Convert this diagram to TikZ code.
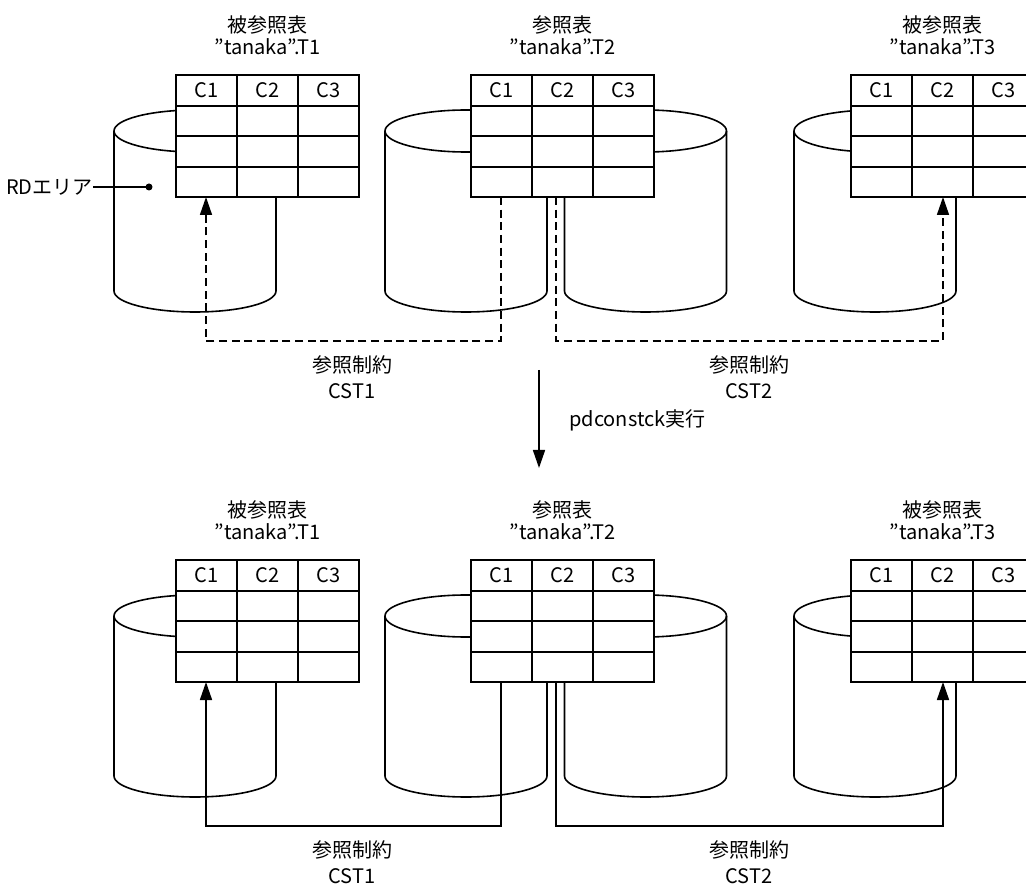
\documentclass[tikz,border=0pt]{standalone}
\usepackage{fontspec}
\setmainfont{Noto Sans CJK JP}
\usetikzlibrary{arrows.meta}
\tikzset{
  lbl/.style={inner sep=0pt, font=\fontsize{15}{18}\selectfont},
  ln/.style={line width=1.2pt},
  dashln/.style={ln, dash pattern=on 6pt off 3.5pt},
  tip/.style={-{Triangle[length=13.5pt,width=9pt]}},
  dbtable/.pic={
    \path[ln, draw, fill=white] (0,0) rectangle (183,-122);
    \draw[ln] (61,0) -- (61,-122) (122,0) -- (122,-122)
      (0,-31) -- (183,-31) (0,-61) -- (183,-61) (0,-92) -- (183,-92);
    \node[lbl] (-c1) at (30.5,-15.5) {C1};
    \node[lbl] (-c2) at (91.5,-15.5) {C2};
    \node[lbl] (-c3) at (152.5,-15.5) {C3};
  },
  cylinder/.pic={
    \path[ln, draw, fill=white] (-81,0) -- (-81,-160)
      arc[start angle=180, end angle=360, x radius=81, y radius=21]
      -- (81,0) arc[start angle=0, end angle=180, x radius=81, y radius=21] -- cycle;
    \draw[ln] (-81,0) arc[start angle=180, end angle=360, x radius=81, y radius=21];
  }
}
\begin{document}
\begin{tikzpicture}[x=0.75pt, y=0.75pt]
\useasboundingbox (0,0) rectangle (1026,-884);
\clip (0,0) rectangle (1026,-884);

% ---------- upper half ----------
\pic (cA) at (195,-131) {cylinder};
\pic (cB) at (466,-131) {cylinder};
\pic (cC) at (645.5,-131) {cylinder};
\pic (cD) at (875,-131) {cylinder};

\pic (tA) at (176,-75) {dbtable};
\pic (tB) at (471,-75) {dbtable};
\pic (tC) at (851,-75) {dbtable};

\node[lbl] (hA1) at (267.5,-25) {被参照表};
\node[lbl] (hA2) at (267.5,-47) {"tanaka".T1};
\node[lbl] (hB1) at (562.5,-25) {参照表};
\node[lbl] (hB2) at (562.5,-47) {"tanaka".T2};
\node[lbl] (hC1) at (942.5,-25) {被参照表};
\node[lbl] (hC2) at (942.5,-47) {"tanaka".T3};

\node[lbl, anchor=east] (rd) at (93,-187) {RDエリア};
\coordinate (rddot) at (149,-187);
\draw[ln] (rd.east) -- (rddot);
\fill (rddot) circle[radius=3.5];

\coordinate (u1s) at (501,-197);
\coordinate (u1a) at (501,-341);
\coordinate (u1b) at (206,-341);
\coordinate (u1e) at (206,-197);
\draw[dashln, tip] (u1s) -- (u1a) -- (u1b) -- (u1e);
\coordinate (u2s) at (556,-197);
\coordinate (u2a) at (556,-341);
\coordinate (u2b) at (943,-341);
\coordinate (u2e) at (943,-197);
\draw[dashln, tip] (u2s) -- (u2a) -- (u2b) -- (u2e);

\node[lbl] (k1a) at (352,-365) {参照制約};
\node[lbl] (k1b) at (352,-391) {CST1};
\node[lbl] (k2a) at (749,-365) {参照制約};
\node[lbl] (k2b) at (749,-391) {CST2};

% ---------- main arrow ----------
\coordinate (ms) at (539,-370);
\coordinate (me) at (539,-468);
\draw[ln, tip] (ms) -- (me);
\node[lbl, anchor=west] (cmd) at (569,-420) {pdconstck実行};

% ---------- lower half ----------
\pic (dA) at (195,-616) {cylinder};
\pic (dB) at (466,-616) {cylinder};
\pic (dC) at (645.5,-616) {cylinder};
\pic (dD) at (875,-616) {cylinder};

\pic (sA) at (176,-560) {dbtable};
\pic (sB) at (471,-560) {dbtable};
\pic (sC) at (851,-560) {dbtable};

\node[lbl] (gA1) at (267.5,-510) {被参照表};
\node[lbl] (gA2) at (267.5,-532) {"tanaka".T1};
\node[lbl] (gB1) at (562.5,-510) {参照表};
\node[lbl] (gB2) at (562.5,-532) {"tanaka".T2};
\node[lbl] (gC1) at (942.5,-510) {被参照表};
\node[lbl] (gC2) at (942.5,-532) {"tanaka".T3};

\coordinate (l1s) at (501,-682);
\coordinate (l1a) at (501,-826);
\coordinate (l1b) at (206,-826);
\coordinate (l1e) at (206,-682);
\draw[ln, tip] (l1s) -- (l1a) -- (l1b) -- (l1e);
\coordinate (l2s) at (556,-682);
\coordinate (l2a) at (556,-826);
\coordinate (l2b) at (943,-826);
\coordinate (l2e) at (943,-682);
\draw[ln, tip] (l2s) -- (l2a) -- (l2b) -- (l2e);

\node[lbl] (m1a) at (352,-850) {参照制約};
\node[lbl] (m1b) at (352,-876) {CST1};
\node[lbl] (m2a) at (749,-850) {参照制約};
\node[lbl] (m2b) at (749,-876) {CST2};
\end{tikzpicture}
\end{document}
